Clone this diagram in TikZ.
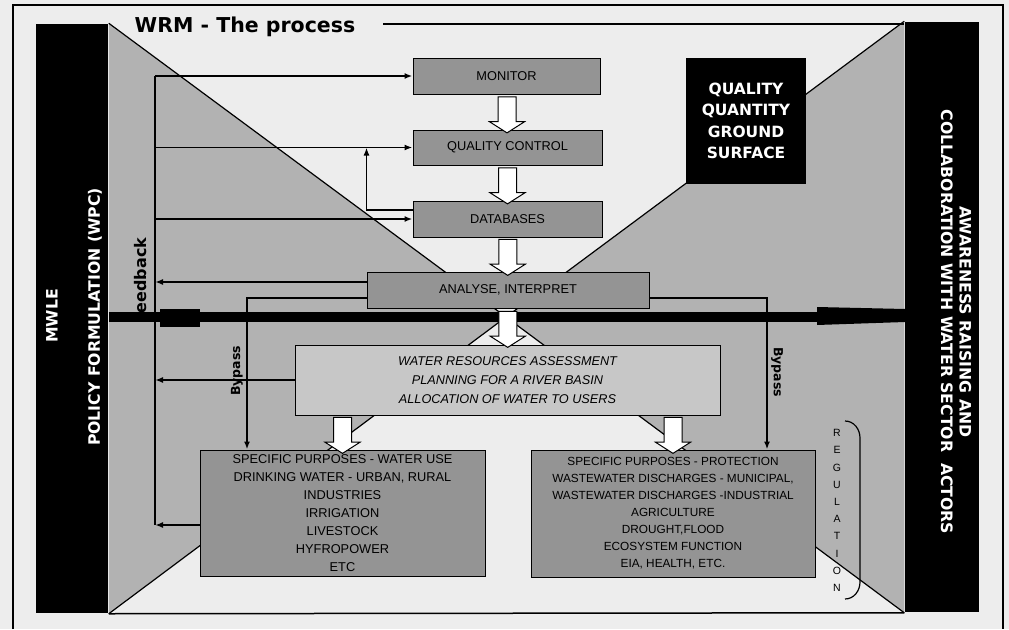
\documentclass[tikz,border=0pt]{standalone}
\usepackage{fontspec}
\setmainfont{Liberation Sans}
\newfontfamily\headfont{DejaVu Sans}
\usetikzlibrary{arrows.meta,shapes.arrows}

\begin{document}
\begin{tikzpicture}[x=1pt, y=-1pt, every node/.style={align=center, inner sep=0pt}, line width=1.5pt, >={Latex[length=8pt,width=6pt]}]
	\tikzstyle{bar} = [fill=black]
	\tikzstyle{hatch} = [fill=black!30]
	\tikzstyle{procbox} = [draw, fill=black!42, line width=1pt, font=\fontsize{12.8}{15}\selectfont]
	\tikzstyle{fatarrow} = [single arrow, draw, fill=white, line width=1pt, inner xsep=0pt, inner ysep=8.5pt, minimum height=36pt, single arrow head extend=8.5pt, single arrow head indent=0pt, single arrow tip angle=115, rotate=-90]
	\tikzstyle{bartext} = [text=white, font=\headfont\bfseries\fontsize{15.7}{18.5}\selectfont]
	\tikzstyle{sidelabel} = [font=\headfont\bfseries\fontsize{12.5}{14}\selectfont]
	\tikzstyle{link} = [line width=1.6pt, ->]
	\useasboundingbox (0,0) rectangle (1009,629);
	% paper and frame
	\fill[black!7] (0,0) rectangle (1009,629);
	\draw[line width=1.2pt] (13,629) -- (13,5) -- (1003,5) -- (1003,629);
	% side bars and wedges
	\node[bar, minimum width=72pt, minimum height=589pt] (lbar) at (72,318.5) {};
	\node[bar, minimum width=74pt, minimum height=590pt] (rbar) at (942,317) {};
	\coordinate (mid) at (506,317);
	\fill[hatch] (lbar.north east) -- (mid) -- (lbar.south east) -- cycle;
	\fill[hatch] (rbar.north west) -- (mid) -- (rbar.south west) -- cycle;
	\draw[line width=1.2pt] (lbar.north east) -- (mid) -- (rbar.north west);
	\draw[line width=1.2pt] (lbar.south east) -- (mid) -- (rbar.south west);
	\draw[line width=1.5pt] (lbar.south east) -- (rbar.south west);
	\node[bartext, rotate=90] (mwle) at (52,316) {MWLE};
	\node[bartext, rotate=90] (wpc) at (95,317) {POLICY FORMULATION (WPC)};
	\node[bartext, rotate=-90] (aware) at (956,322) {AWARENESS RAISING AND\\COLLABORATION WITH WATER SECTOR\ \ ACTORS};
	% title
	\node[font=\headfont\bfseries\fontsize{20.5}{24}\selectfont, anchor=base] (title) at (245,32) {WRM - The process};
	\coordinate (tl) at (383,24);
	\draw[line width=1.2pt] (tl) -- (tl -| rbar.west);
	% labels under the axis
	\node[sidelabel, font=\headfont\bfseries\fontsize{16}{18}\selectfont, rotate=90] (fbl) at (141,279) {feedback};
	\node[sidelabel, rotate=90] (lbyl) at (237,371) {Bypass};
	\node[sidelabel, rotate=-90] (rbyl) at (777,372) {Bypass};
	% feedback and bypass lines
	\coordinate (fbtop) at (155,76);
	\coordinate (fbbot) at (155,525);
	\coordinate (lbp) at (247,0);
	\coordinate (rbp) at (767,0);
	% the axis
	\draw[line width=9.5pt] (lbar.east |- mid) -- (rbar.west |- mid);
	\fill (160,309) rectangle (200,327);
	\fill (817,307) -- (905,309) -- (905,322) -- (817,325) -- cycle;
	% boxes
	\node[procbox, minimum width=187pt, minimum height=36pt] (mon) at (506.5,76) {MONITOR};
	\node[procbox, minimum width=189pt, minimum height=35pt] (qc) at (507.5,147.5) {QUALITY CONTROL};
	\node[procbox, minimum width=189pt, minimum height=36pt] (db) at (507.5,219) {DATABASES};
	\node[procbox, minimum width=282pt, minimum height=36pt] (ana) at (508,290) {ANALYSE, INTERPRET};
	\node[procbox, fill=black!22, minimum width=425pt, minimum height=70pt, font=\itshape\fontsize{12.7}{19}\selectfont] (wra) at (507.5,380) {WATER RESOURCES ASSESSMENT\\PLANNING FOR A RIVER BASIN\\ALLOCATION OF WATER TO USERS};
	\node[procbox, minimum width=285pt, minimum height=126pt, font=\fontsize{12.8}{18}\selectfont] (lpur) at (342.5,513) {SPECIFIC PURPOSES - WATER USE\\DRINKING WATER - URBAN, RURAL\\INDUSTRIES\\IRRIGATION\\LIVESTOCK\\HYFROPOWER\\ETC};
	\node[procbox, minimum width=284pt, minimum height=127pt, font=\fontsize{11.8}{17}\selectfont] (rpur) at (673,513.5) {SPECIFIC PURPOSES - PROTECTION\\WASTEWATER DISCHARGES - MUNICIPAL,\\WASTEWATER DISCHARGES -INDUSTRIAL\\AGRICULTURE\\DROUGHT,FLOOD\\ECOSYSTEM FUNCTION\\EIA, HEALTH, ETC.};
	\node[fill=black, text=white, minimum width=120pt, minimum height=126pt, font=\headfont\bfseries\fontsize{15.5}{21.5}\selectfont] (qual) at (746,121) {QUALITY\\QUANTITY\\GROUND\\SURFACE};
	% big arrows
	\path (mon.south) -- (qc.north) node[midway, fatarrow] {};
	\path (qc.south) -- (db.north) node[midway, fatarrow] {};
	\path (db.south) -- (ana.north) node[midway, fatarrow] {};
	\path (ana.south) -- (wra.north) node[midway, fatarrow] {};
	\path (lpur.north |- wra.south) -- (lpur.north) node[midway, fatarrow] {};
	\path (rpur.north |- wra.south) -- (rpur.north) node[midway, fatarrow] {};
	% links
	\coordinate (dbup) at ([yshift=9pt]db.west);
	\coordinate (anaup) at ([yshift=8pt]ana.west);
	\coordinate (anadn) at ([yshift=-8pt]ana.west);
	\coordinate (anadnr) at ([yshift=-8pt]ana.east);
	\coordinate (lpurdn) at ([yshift=-12pt]lpur.west);
	\draw (fbbot) -- (fbtop);
	\draw[link] (fbtop) -- (mon.west);
	\draw[link] (fbtop |- qc.west) -- (qc.west);
	\draw[link] (fbtop |- db.west) -- (db.west);
	\draw[link] (dbup) -| (ana.west |- qc.west);
	\draw[link] (anaup) -- (anaup -| fbtop);
	\draw[link] (anadn) -| (lbp |- lpur.north);
	\draw[link] (anadnr) -| (rbp |- rpur.north);
	\draw[link] (wra.west) -- (wra.west -| fbtop);
	\draw[link] (lpurdn) -- (fbbot);
	% regulation
	\node[font=\fontsize{10.5}{17.2}\selectfont] (reg) at (837,510.5) {R\\E\\G\\U\\L\\A\\T\\I\\O\\N};
	\draw[line width=1.2pt] (845,421) to[out=0,in=90] (860,438) -- (860,582) to[out=-90,in=0] (845,599);
\end{tikzpicture}
\end{document}
